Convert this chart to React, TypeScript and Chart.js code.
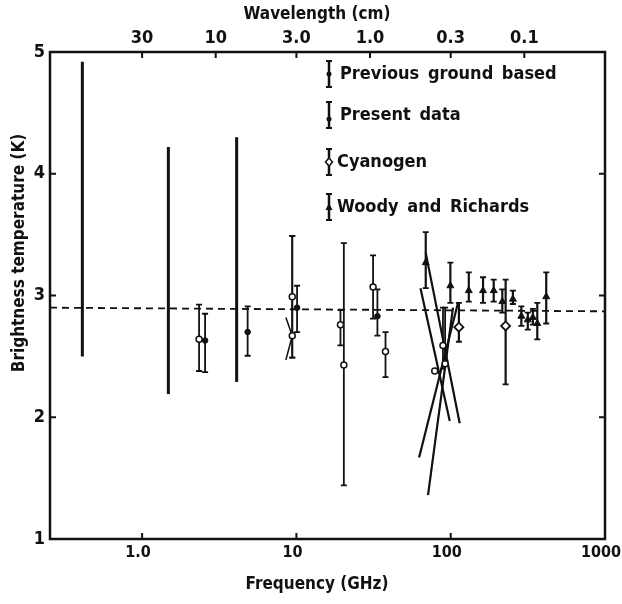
import React, { useEffect, useRef } from "react";
import { Chart, registerables } from "chart.js";

Chart.register(...registerables);

// ---------- axes ----------
const FREQ_MIN = 0.253;
const FREQ_MAX = 1000;
const TEMP_MIN = 1;
const TEMP_MAX = 5;
const freqTicks = [1, 10, 100, 1000];
const freqTickLabels = ["1.0", "10", "100", "1000"];
const waveTicks = [30, 10, 3, 1, 0.3, 0.1];
const waveTickLabels = ["30", "10", "3.0", "1.0", "0.3", "0.1"];
const tempTicks = [1, 2, 3, 4, 5];
const tempTickLabels = ["1", "2", "3", "4", "5"];
const xTitle = "Frequency (GHz)";
const x2Title = "Wavelength (cm)";
const yTitle = "Brightness temperature (K)";
const legendLabels = ["Previous ground based", "Present data", "Cyanogen", "Woody and Richards"];

// ---------- data ----------
// Previous ground based (filled dots)
const prevFreq = [2.56, 4.83, 10.1, 33.5];
const prevT = [2.63, 2.7, 2.9, 2.83];
const prevLo = [2.37, 2.505, 2.7, 2.67];
const prevHi = [2.85, 2.91, 3.08, 3.05];

// Previous ground based (open circles)
const prevOpenFreq = [2.34, 9.4, 9.4, 19.3, 20.3, 31.4, 37.8, 89.1, 92.0, 78.8];
const prevOpenT = [2.64, 2.99, 2.67, 2.76, 2.43, 3.07, 2.54, 2.59, 2.44, 2.38];
const prevOpenLo = [2.38, 2.49, 2.49, 2.59, 1.44, 2.81, 2.33, 2.4, 2.47, 2.38];
const prevOpenHi = [2.925, 3.49, 3.49, 2.88, 3.43, 3.33, 2.7, 2.9, 2.9, 2.38];

// Present data (long bars)
const presentFreq = [0.41, 1.48, 4.1];
const presentLo = [2.5, 2.19, 2.29];
const presentHi = [4.92, 4.22, 4.3];

// Cyanogen
const cnFreq = [113, 227];
const cnT = [2.74, 2.75];
const cnLo = [2.62, 2.27];
const cnHi = [2.94, 3.13];

// Woody and Richards
const wrFreq = [68.9, 99.5, 131, 162, 190, 216, 253, 287, 316, 341, 364, 416];
const wrT = [3.27, 3.08, 3.04, 3.04, 3.04, 2.95, 2.97, 2.83, 2.8, 2.82, 2.77, 2.99];
const wrLo = [3.06, 2.94, 2.95, 2.94, 2.95, 2.86, 2.93, 2.75, 2.72, 2.76, 2.64, 2.77];
const wrHi = [3.52, 3.27, 3.19, 3.15, 3.13, 3.05, 3.04, 2.91, 2.86, 2.89, 2.94, 3.19];

// Broadband (slanted) measurements: segment ends
const bandFreqA = [63.7, 68.9, 62.4, 71.3];
const bandTA = [3.06, 3.35, 1.67, 1.36];
const bandFreqB = [98.6, 114.4, 111.5, 103.5];
const bandTB = [1.97, 1.95, 2.94, 2.9];

// Small V near 9 GHz
const vFreq = [8.55, 9.4, 8.55];
const vT = [2.82, 2.67, 2.47];

// Dashed reference line
const refFreq = [0.253, 1000];
const refT = [2.9, 2.87];

const FONT = '"DejaVu Sans Condensed", "Liberation Sans Narrow", "DejaVu Sans", sans-serif';

const mk = (xs: number[], ys: number[], lo?: number[], hi?: number[]) =>
  xs.map((x, i) => ({ x, y: ys[i], lo: lo ? lo[i] : undefined, hi: hi ? hi[i] : undefined }));

const errorBarPlugin = {
  id: "errorBars",
  beforeDatasetsDraw(chart: any) {
    const { ctx } = chart;
    const xs = chart.scales.x;
    const ys = chart.scales.y;
    chart.data.datasets.forEach((ds: any) => {
      if (!ds.errorBar) return;
      ctx.save();
      ctx.strokeStyle = "#111";
      ctx.lineWidth = ds.errorBar.width;
      ds.data.forEach((p: any) => {
        if (p.lo == null || p.hi == null || p.lo === p.hi) return;
        const px = xs.getPixelForValue(p.x);
        const y1 = ys.getPixelForValue(p.lo);
        const y2 = ys.getPixelForValue(p.hi);
        ctx.beginPath();
        ctx.moveTo(px, y1);
        ctx.lineTo(px, y2);
        ctx.stroke();
        const c = ds.errorBar.cap;
        if (c > 0) {
          ctx.lineWidth = 1.8;
          ctx.beginPath();
          ctx.moveTo(px - c, y1);
          ctx.lineTo(px + c, y1);
          ctx.moveTo(px - c, y2);
          ctx.lineTo(px + c, y2);
          ctx.stroke();
          ctx.lineWidth = ds.errorBar.width;
        }
      });
      ctx.restore();
    });
  },
};

const framePlugin = {
  id: "frameAndText",
  afterDraw(chart: any) {
    const { ctx, chartArea: a } = chart;
    const xs = chart.scales.x;
    const x2 = chart.scales.x2;
    const ys = chart.scales.y;
    ctx.save();
    ctx.strokeStyle = "#111";
    ctx.lineWidth = 2.5;
    ctx.strokeRect(a.left, a.top, a.right - a.left, a.bottom - a.top);
    ctx.lineWidth = 2;
    const tl = 6;
    ctx.beginPath();
    freqTicks.forEach((v) => {
      const px = xs.getPixelForValue(v);
      ctx.moveTo(px, a.bottom);
      ctx.lineTo(px, a.bottom - tl);
    });
    waveTicks.forEach((v) => {
      const px = x2.getPixelForValue(v);
      ctx.moveTo(px, a.top);
      ctx.lineTo(px, a.top + tl);
    });
    tempTicks.forEach((v) => {
      const py = ys.getPixelForValue(v);
      ctx.moveTo(a.left, py);
      ctx.lineTo(a.left + tl, py);
      ctx.moveTo(a.right, py);
      ctx.lineTo(a.right - tl, py);
    });
    ctx.stroke();

    // titles
    ctx.fillStyle = "#111";
    ctx.font = `bold 17px ${FONT}`;
    ctx.textAlign = "center";
    ctx.textBaseline = "middle";
    ctx.fillText(xTitle, 317, 585);
    ctx.fillText(x2Title, 317, 15);
    ctx.save();
    ctx.translate(20, 253);
    ctx.rotate(-Math.PI / 2);
    ctx.fillText(yTitle, 0, 0);
    ctx.restore();

    // legend
    const lx = 329;
    const rows = [74, 115, 162, 207];
    ctx.textAlign = "left";
    ctx.font = `bold 18px ${FONT}`;
    (ctx as any).wordSpacing = "3px";
    rows.forEach((cy, i) => {
      ctx.lineWidth = 2.5;
      ctx.beginPath();
      ctx.moveTo(lx, cy - 13);
      ctx.lineTo(lx, cy + 13);
      ctx.stroke();
      ctx.lineWidth = 2;
      ctx.beginPath();
      ctx.moveTo(lx - 3, cy - 13);
      ctx.lineTo(lx + 3, cy - 13);
      ctx.moveTo(lx - 3, cy + 13);
      ctx.lineTo(lx + 3, cy + 13);
      ctx.stroke();
      if (i === 0) {
        ctx.beginPath();
        ctx.arc(lx, cy, 2.5, 0, Math.PI * 2);
        ctx.fill();
      } else if (i === 1) {
        ctx.beginPath();
        ctx.arc(lx, cy + 4, 2.5, 0, Math.PI * 2);
        ctx.fill();
      } else if (i === 2) {
        ctx.beginPath();
        ctx.moveTo(lx, cy - 4);
        ctx.lineTo(lx + 3.5, cy);
        ctx.lineTo(lx, cy + 4);
        ctx.lineTo(lx - 3.5, cy);
        ctx.closePath();
        ctx.fillStyle = "#fff";
        ctx.fill();
        ctx.lineWidth = 1.5;
        ctx.stroke();
        ctx.fillStyle = "#111";
      } else {
        ctx.beginPath();
        ctx.moveTo(lx, cy - 4);
        ctx.lineTo(lx + 3.5, cy + 3);
        ctx.lineTo(lx - 3.5, cy + 3);
        ctx.closePath();
        ctx.fill();
      }
      ctx.fillText(legendLabels[i], lx + 11 - (i >= 2 ? 3 : 0), cy);
    });
    ctx.restore();
  },
};

export default function App() {
  const ref = useRef<HTMLCanvasElement | null>(null);
  useEffect(() => {
    document.body.style.margin = "0";
    const canvas = ref.current;
    if (!canvas) return;

    const bandSets = bandFreqA.map((f, i) => ({
      type: "line" as const,
      data: [
        { x: f, y: bandTA[i] },
        { x: bandFreqB[i], y: bandTB[i] },
      ],
      borderColor: "#111",
      borderWidth: 2.2,
      pointRadius: 0,
      showLine: true,
      order: 5,
    }));

    const tickFont = { family: FONT, size: 18, weight: "bold" };

    const chart = new Chart(canvas, {
      type: "scatter",
      data: {
        datasets: [
          {
            type: "line",
            data: mk(refFreq, refT),
            borderColor: "#111",
            borderWidth: 1.8,
            borderDash: [7, 5],
            pointRadius: 0,
            showLine: true,
            order: 10,
          } as any,
          ...bandSets,
          {
            type: "line",
            data: mk(vFreq, vT),
            borderColor: "#111",
            borderWidth: 1.5,
            pointRadius: 0,
            showLine: true,
            order: 5,
          } as any,
          {
            data: mk(presentFreq, presentLo.map((v, i) => (v + presentHi[i]) / 2), presentLo, presentHi),
            pointRadius: 0,
            errorBar: { width: 3, cap: 0 },
          } as any,
          {
            data: mk(prevFreq, prevT, prevLo, prevHi),
            pointStyle: "circle",
            pointRadius: 2.8,
            backgroundColor: "#111",
            borderColor: "#111",
            errorBar: { width: 1.8, cap: 3 },
          } as any,
          {
            data: mk(prevOpenFreq, prevOpenT, prevOpenLo, prevOpenHi),
            pointStyle: "circle",
            pointRadius: 3,
            backgroundColor: "#fff",
            borderColor: "#111",
            borderWidth: 1.5,
            errorBar: { width: 1.8, cap: 3 },
          } as any,
          {
            data: mk(cnFreq, cnT, cnLo, cnHi),
            pointStyle: "rectRot",
            pointRadius: 4.5,
            backgroundColor: "#fff",
            borderColor: "#111",
            borderWidth: 1.8,
            errorBar: { width: 2.2, cap: 3 },
          } as any,
          {
            data: mk(wrFreq, wrT, wrLo, wrHi),
            pointStyle: "triangle",
            pointRadius: 4,
            backgroundColor: "#111",
            borderColor: "#111",
            errorBar: { width: 2.2, cap: 3 },
          } as any,
        ],
      },
      options: {
        responsive: false,
        animation: false,
        devicePixelRatio: 1,
        layout: { padding: { left: 0, right: 17, top: 0, bottom: 0 } },
        plugins: { legend: { display: false }, tooltip: { enabled: false } },
        scales: {
          x: {
            type: "logarithmic",
            position: "bottom",
            min: FREQ_MIN,
            max: FREQ_MAX,
            afterBuildTicks: (s: any) => {
              s.ticks = freqTicks.map((v) => ({ value: v }));
            },
            afterFit: (s: any) => {
              s.height = 65;
              s.paddingLeft = 0;
              s.paddingRight = 0;
            },
            ticks: {
              autoSkip: false,
              maxRotation: 0,
              padding: 4,
              labelOffset: -4,
              color: "#111",
              font: { family: FONT, size: 16, weight: "bold" },
              callback: (v: any) => {
                const i = freqTicks.indexOf(Number(v));
                return i >= 0 ? freqTickLabels[i] : "";
              },
            },
            grid: { display: false, drawTicks: false },
            border: { display: false },
          },
          x2: {
            type: "logarithmic",
            position: "top",
            reverse: true,
            min: 30 / FREQ_MAX,
            max: 30 / FREQ_MIN,
            afterBuildTicks: (s: any) => {
              s.ticks = waveTicks.map((v) => ({ value: v }));
            },
            afterFit: (s: any) => {
              s.height = 52;
              s.paddingLeft = 0;
              s.paddingRight = 0;
            },
            ticks: {
              autoSkip: false,
              maxRotation: 0,
              padding: 3,
              color: "#111",
              font: tickFont,
              callback: (v: any) => {
                const i = waveTicks.indexOf(Number(v));
                return i >= 0 ? waveTickLabels[i] : "";
              },
            },
            grid: { display: false, drawTicks: false },
            border: { display: false },
          },
          y: {
            type: "linear",
            min: TEMP_MIN,
            max: TEMP_MAX,
            afterBuildTicks: (s: any) => {
              s.ticks = tempTicks.map((v) => ({ value: v }));
            },
            afterFit: (s: any) => {
              s.width = 50;
            },
            ticks: {
              padding: 5,
              color: "#111",
              font: tickFont,
              callback: (v: any) => {
                const i = tempTicks.indexOf(Number(v));
                return i >= 0 ? tempTickLabels[i] : "";
              },
            },
            grid: { display: false, drawTicks: false },
            border: { display: false },
          },
        },
      } as any,
      plugins: [errorBarPlugin, framePlugin],
    });
    return () => chart.destroy();
  }, []);

  return (
    <div style={{ width: 622, height: 604, background: "#fff" }}>
      <canvas ref={ref} width={622} height={604} style={{ display: "block" }} />
    </div>
  );
}
